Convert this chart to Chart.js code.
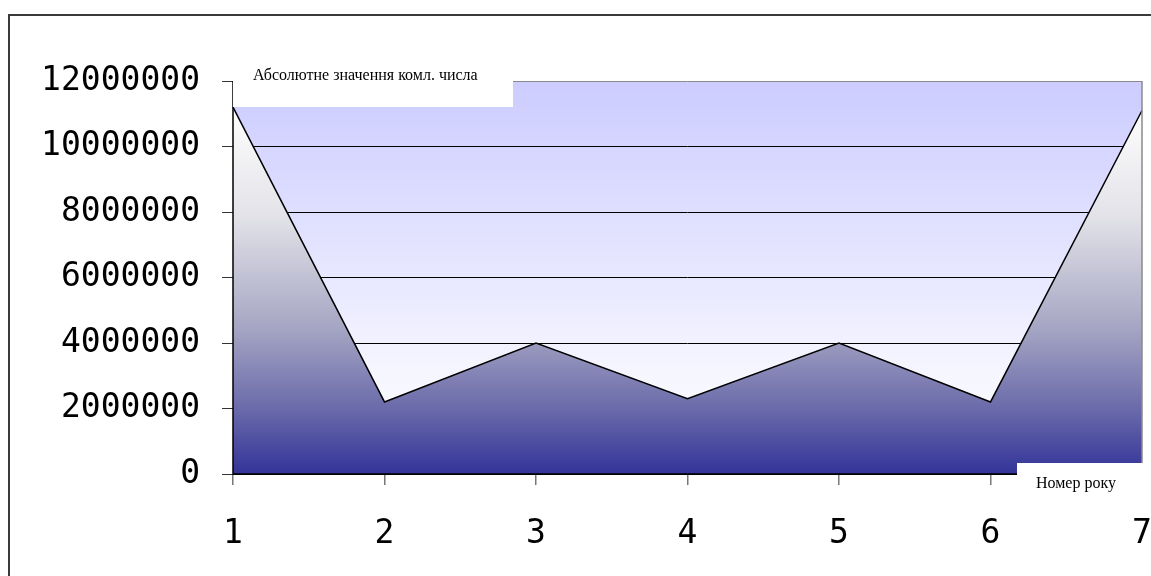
<!DOCTYPE html>
<html>
<head>
<meta charset="utf-8">
<script src="https://cdn.jsdelivr.net/npm/chart.js@4/dist/chart.umd.min.js"></script>
<style>
  html, body { margin: 0; padding: 0; background: #fff; overflow: hidden; }
  #wrap { position: relative; width: 1151px; height: 576px; }
  #frame { position: absolute; left: 8px; top: 14px; width: 1300px; height: 700px;
           border-left: 2px solid #3a3a3a; border-top: 2px solid #3a3a3a; box-sizing: border-box; }
  canvas { position: absolute; left: 0; top: 0; }
</style>
</head>
<body>
<div id="wrap">
  <div id="frame"></div>
  <canvas id="chart" width="1151" height="576"></canvas>
</div>
<script>
// Year numbers along the bottom axis
const years = ['1', '2', '3', '4', '5', '6', '7'];
// Absolute value of the complex number for each year
const absValues = [11200000, 2200000, 4000000, 2300000, 4000000, 2200000, 11100000];
// Value axis range and step
const yMin = 0;
const yMax = 12000000;
const yStep = 2000000;

const yTitle = 'Абсолютне значення комл. числа';
const xTitle = 'Номер року';

const tickFont = { family: '"DejaVu Sans Mono", monospace', size: 33 };
const captionFont = '16px "Liberation Serif", "Times New Roman", serif';

// Lavender-to-white background behind the plot
const plotBackground = {
  id: 'plotBackground',
  beforeDraw(chart) {
    const { ctx, chartArea: a } = chart;
    if (!a) return;
    const g = ctx.createLinearGradient(0, a.top, 0, a.bottom);
    g.addColorStop(0, '#ccccff');
    g.addColorStop(0.75, '#f6f6ff');
    g.addColorStop(1, '#ffffff');
    ctx.save();
    ctx.fillStyle = g;
    ctx.fillRect(a.left, a.top, a.right - a.left, a.bottom - a.top);
    ctx.restore();
  }
};

// Axis lines, right border and the two white caption boxes
const frameAndLabels = {
  id: 'frameAndLabels',
  afterDatasetsDraw(chart) {
    const { ctx, chartArea: a } = chart;
    ctx.save();
    ctx.strokeStyle = '#8a8a8a';
    ctx.lineWidth = 1.5;
    ctx.beginPath();
    ctx.moveTo(a.right, a.top);
    ctx.lineTo(a.right, a.bottom);
    ctx.stroke();
    ctx.strokeStyle = '#000';
    ctx.lineWidth = 1.5;
    ctx.beginPath();
    ctx.moveTo(a.left, a.top);
    ctx.lineTo(a.left, a.bottom);
    ctx.lineTo(a.right, a.bottom);
    ctx.stroke();
    ctx.restore();
  },
  afterDraw(chart) {
    const { ctx, chartArea: a } = chart;
    ctx.save();
    // value axis caption
    ctx.fillStyle = '#ffffff';
    ctx.fillRect(a.left, a.top - 16, 280, 42);
    ctx.fillStyle = '#000';
    ctx.font = captionFont;
    ctx.textBaseline = 'middle';
    ctx.textAlign = 'left';
    ctx.fillText(yTitle, a.left + 20, a.top - 5);
    // category axis caption
    ctx.fillStyle = '#ffffff';
    ctx.fillRect(a.right - 125, a.bottom - 11, 140, 44);
    ctx.fillStyle = '#000';
    ctx.textAlign = 'center';
    ctx.fillText(xTitle, a.right - 66, a.bottom + 10);
    ctx.restore();
  }
};

new Chart(document.getElementById('chart'), {
  type: 'line',
  data: {
    labels: years,
    datasets: [{
      data: absValues,
      borderColor: '#000000',
      borderWidth: 1.5,
      pointRadius: 0,
      tension: 0,
      fill: 'origin',
      backgroundColor(context) {
        const chart = context.chart;
        const a = chart.chartArea;
        if (!a) return '#6666aa';
        const y = chart.scales.y;
        const top = y.getPixelForValue(Math.max(...absValues));
        const g = chart.ctx.createLinearGradient(0, top, 0, a.bottom);
        g.addColorStop(0, '#ffffff');
        g.addColorStop(0.3, '#e2e2e8');
        g.addColorStop(0.6, '#a6a6c4');
        g.addColorStop(0.82, '#6b6bab');
        g.addColorStop(1, '#333399');
        return g;
      }
    }]
  },
  options: {
    responsive: false,
    animation: false,
    events: [],
    layout: { autoPadding: false, padding: { left: 0, right: 9, top: 81, bottom: 0 } },
    plugins: {
      legend: { display: false },
      tooltip: { enabled: false },
      title: { display: false }
    },
    scales: {
      x: {
        type: 'category',
        offset: false,
        border: { display: false },
        grid: {
          drawOnChartArea: false,
          drawTicks: true,
          tickLength: 11,
          tickColor: '#777777',
          lineWidth: 1.5
        },
        ticks: { color: '#000', font: tickFont, padding: 30, maxRotation: 0, autoSkip: false },
        afterFit(scale) {
          scale.height = 102;
          scale.paddingLeft = 0;
          scale.paddingRight = 0;
        }
      },
      y: {
        min: yMin,
        max: yMax,
        border: { display: false },
        grid: {
          color(ctx) { return ctx.tick && ctx.tick.value === yMax ? '#8a8a8a' : '#000000'; },
          lineWidth: 1,
          drawTicks: true,
          tickLength: 11,
          tickColor: '#333333'
        },
        ticks: {
          stepSize: yStep,
          color: '#000',
          font: tickFont,
          padding: 22,
          callback(value) { return String(value); }
        },
        afterFit(scale) {
          scale.width = 233;
          scale.paddingTop = 0;
          scale.paddingBottom = 0;
        }
      }
    }
  },
  plugins: [plotBackground, frameAndLabels]
});
</script>
</body>
</html>
